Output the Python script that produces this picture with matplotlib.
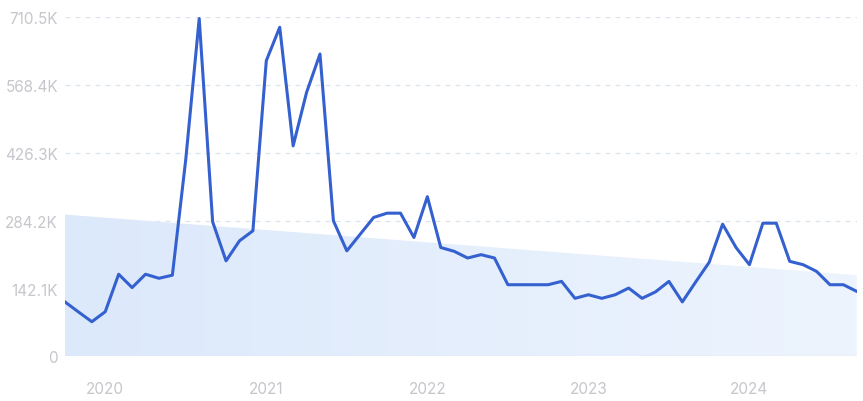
import numpy as np
import matplotlib.pyplot as plt
from matplotlib.patches import Polygon

# monthly values, Oct 2019 .. Sep 2024 (thousands)
values = [114, 93, 72.5, 93.5, 172, 144, 172, 163.5, 170, 413,
          708, 282, 200, 242, 263, 619.6, 689.6, 441, 553, 633.6,
          284, 221, 256, 291, 300, 300, 249, 334.5, 228, 220,
          206, 213, 206, 150, 150, 150, 150, 157, 121.5, 129,
          121.5, 129, 143, 121.5, 135, 157, 114, 156, 197, 277,
          228, 192, 279, 279, 199, 192, 178, 150, 150, 136]
trend_start = 297
trend_end = 170
year_labels = ['2020', '2021', '2022', '2023', '2024']
year_pos = [3, 15, 27, 39, 51]
y_ticks = [0, 142.1, 284.2, 426.3, 568.4, 710.5]
y_labels = ['0', '142.1K', '284.2K', '426.3K', '568.4K', '710.5K']

plt.rcParams['font.family'] = ['Inter', 'DejaVu Sans']

fig = plt.figure(figsize=(8.63, 4.02), dpi=100)
ax = fig.add_axes([65/863, 1-357.3/402, 791.8/863, (357.3-18.3)/402])

x = np.arange(len(values))
n = len(values) - 1

# gradient-filled trend area
grad = np.linspace(0, 1, 256)
c0 = np.array([220, 233, 251]) / 255
c1 = np.array([237, 244, 254]) / 255
img = c0[None, :] + (c1 - c0)[None, :] * grad[:, None]
im = ax.imshow(img[None, :, :], extent=[0, n, 0, trend_start], aspect='auto', zorder=1)
poly = Polygon([[0, 0], [0, trend_start], [n, trend_end], [n, 0]], closed=True,
               facecolor='none', edgecolor='none')
ax.add_patch(poly)
im.set_clip_path(poly)

ax.plot(x, values, color='#3461cf', lw=2.2, zorder=3)

for t in y_ticks[1:]:
    ax.axhline(t, color='#dce3ea', lw=0.9, ls=(0, (4, 4)), zorder=0)
ax.axhline(0, color='#dde6f2', lw=1.0, zorder=2)

ax.set_xlim(0, n)
ax.set_ylim(0, 710.5)
ax.set_yticks(y_ticks)
ax.set_yticklabels(y_labels)
ax.set_xticks(year_pos)
ax.set_xticklabels(year_labels)
ax.tick_params(axis='both', length=0, labelsize=11, colors='#c6c6cc')
ax.tick_params(axis='x', pad=18)
ax.tick_params(axis='y', pad=5)
for s in ax.spines.values():
    s.set_visible(False)

fig.savefig('out.png', dpi=100)
